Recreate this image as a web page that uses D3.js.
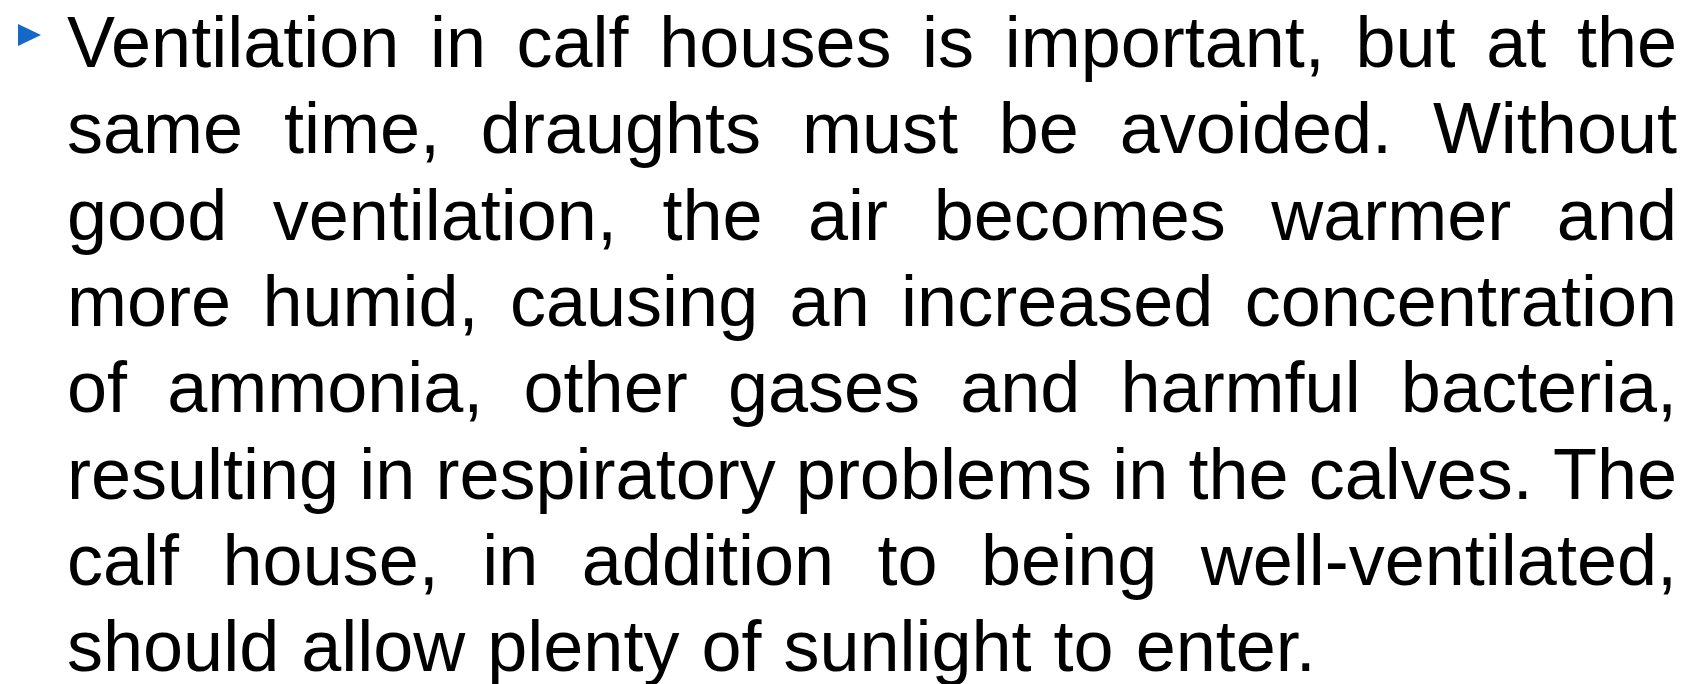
<!DOCTYPE html>
<html>
<head>
<meta charset="utf-8">
<script src="https://cdn.jsdelivr.net/npm/d3@7"></script>
<style>
  html, body { margin: 0; padding: 0; background: #ffffff; }
  svg { display: block; }
</style>
</head>
<body>
<script>
// Slide content: one bulleted paragraph, broken into its justified lines
const lines = [
  "Ventilation in calf houses is important, but at the",
  "same time, draughts must be avoided. Without",
  "good ventilation, the air becomes warmer and",
  "more humid, causing an increased concentration",
  "of ammonia, other gases and harmful bacteria,",
  "resulting in respiratory problems in the calves. The",
  "calf house, in addition to being well-ventilated,",
  "should allow plenty of sunlight to enter."
];
const bulletColor = "#1468c8";

const W = 1688, H = 684;
const fontSize = 72;
const left = 67, right = 1677;
const firstBaseline = 67, lineGap = 86.3;

const svg = d3.select("body").append("svg")
  .attr("width", W).attr("height", H);

const y = d3.scaleLinear().domain([0, 1]).range([firstBaseline, firstBaseline + lineGap]);

// bullet triangle
svg.append("path")
  .attr("d", d3.line()([[18, 24], [41, 35], [18, 46]]) + "Z")
  .attr("fill", bulletColor);

const g = svg.append("g")
  .attr("font-family", "'Liberation Sans', Arial, sans-serif")
  .attr("font-size", fontSize)
  .attr("fill", "#000");

const spaceW = (() => {
  const t = g.append("text").text("a a");
  const t2 = g.append("text").text("aa");
  const s = t.node().getComputedTextLength() - t2.node().getComputedTextLength();
  t.remove(); t2.remove();
  return s;
})();

lines.forEach((line, i) => {
  const words = line.split(" ");
  const isLast = i === lines.length - 1;
  const texts = words.map(w => g.append("text").attr("y", y(i)).text(w));
  const widths = texts.map(t => t.node().getComputedTextLength());
  const total = d3.sum(widths);
  const gap = isLast || words.length < 2 ? spaceW + 2 : (right - left - total) / (words.length - 1);
  let x = left;
  texts.forEach((t, k) => {
    t.attr("x", x);
    x += widths[k] + gap;
  });
});
</script>
</body>
</html>
